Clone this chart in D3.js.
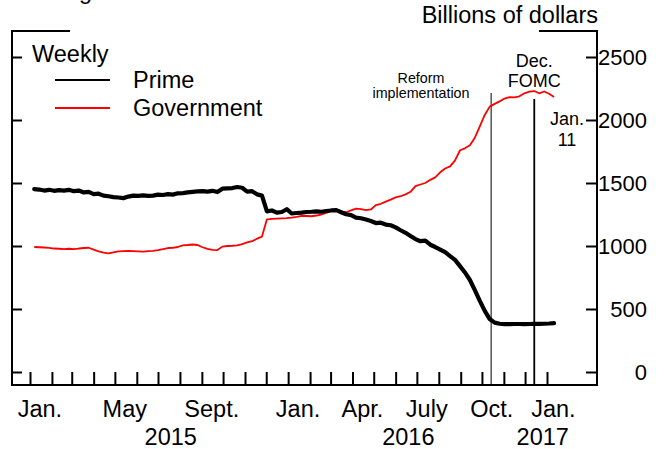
<!DOCTYPE html>
<html><head><meta charset="utf-8">
<script src="https://cdn.jsdelivr.net/npm/d3@7"></script>
<style>
html,body{margin:0;padding:0;background:#fff;}
svg{display:block;font-family:"Liberation Sans",Arial,sans-serif;}
</style>
</head><body>
<svg id="chart" width="664" height="449"></svg>
<script>
// ---------- data (weekly, Wednesdays, billions of dollars) ----------
const firstWeek = "2015-01-07";
const lastWeek = "2017-01-11";
const prime = [
 1452,1448,1440,1446,1438,1444,1440,1446,1435,1440,
 1425,1430,1412,1415,1400,1395,1388,1385,1380,1392,
 1400,1398,1402,1398,1400,1408,1405,1412,1408,1418,
 1420,1425,1430,1433,1436,1432,1438,1428,1455,1458,
 1460,1468,1462,1432,1435,1410,1400,1275,1282,1265,
 1270,1292,1258,1262,1265,1270,1272,1275,1272,1278,
 1282,1285,1268,1252,1245,1225,1220,1210,1198,1182,
 1185,1170,1165,1148,1125,1105,1080,1055,1038,1042,
 1010,992,972,952,920,890,840,790,730,650,
 565,485,420,392,383,380,380,381,381,380,
 381,382,382,383,385,388
];
const government = [
 992,990,988,985,980,978,976,978,975,980,
 984,986,972,958,948,942,950,958,960,962,
 960,958,956,960,962,968,975,984,985,992,
 1005,1008,1012,1008,990,978,970,968,995,1000,
 1002,1005,1015,1028,1038,1058,1075,1212,1216,1218,
 1220,1222,1226,1232,1240,1238,1236,1242,1250,1262,
 1280,1284,1272,1268,1282,1296,1292,1285,1290,1325,
 1335,1352,1368,1386,1395,1410,1430,1475,1488,1500,
 1525,1545,1585,1615,1632,1680,1760,1775,1800,1860,
 1950,2040,2106,2128,2148,2170,2182,2180,2188,2212,
 2225,2230,2212,2226,2208,2182
];
const seriesNames = ["Prime","Government"];
const seriesColors = ["#000000","#ff0000"];
const yTicks = [0,500,1000,1500,2000,2500];
const monthLabels = ["Jan.","May","Sept.","Jan.","Apr.","July","Oct.","Jan."];
const monthLabelDates = ["2015-01-15","2015-05-15","2015-09-15","2016-01-15","2016-04-15","2016-07-15","2016-10-15","2017-01-10"];
const yearLabels = ["2015","2016","2017"];
const yearLabelDates = ["2015-07-19","2016-06-19","2016-12-26"];
const eventDates = ["2016-10-14","2016-12-14"];
const eventLabels = [["Reform","implementation"],["Dec.","FOMC"]];
const unitLabel = "Billions of dollars";
const freqLabel = "Weekly";
const lastDateLabel = ["Jan.","11"];
const clippedTitle = "g";

// ---------- scales ----------
const parse = d3.utcParse("%Y-%m-%d");
const dates = d3.utcWednesday.range(parse(firstWeek), d3.utcDay.offset(parse(lastWeek),1));
const x = d3.scaleUtc().domain([parse("2015-01-01"), parse("2017-01-01")]).range([30,547]);
const y = d3.scaleLinear().domain([0,2500]).range([372,57]);

const svg = d3.select("#chart");
const L = 12, R = 597, T = 31, B = 385;
const FS = 23.5, FSN = 22;

// clipped title remnant at the very top
svg.append("text").attr("x",79).attr("y",-1).attr("font-size",FS).text(clippedTitle);

// frame
svg.append("path")
  .attr("d", `M${L+58},${T}H${L}V${B}H${R}V${T}H${R-58}`)
  .attr("fill","none").attr("stroke","#000").attr("stroke-width",2);

// x ticks (monthly)
const months = d3.utcMonth.range(parse("2015-01-01"), parse("2017-01-02"));
const gx = svg.append("g").attr("transform",`translate(0,${B})`)
  .call(d3.axisBottom(x).tickValues(months).tickSize(-13).tickFormat(""));
gx.select(".domain").remove();
gx.selectAll("line").attr("stroke","#000").attr("stroke-width",2);

// y ticks both sides
const gl = svg.append("g").attr("transform",`translate(${L},0)`)
  .call(d3.axisLeft(y).tickValues(yTicks).tickSize(-10).tickFormat(""));
gl.select(".domain").remove();
gl.selectAll("line").attr("stroke","#000").attr("stroke-width",2);
const gr = svg.append("g").attr("transform",`translate(${R},0)`)
  .call(d3.axisRight(y).tickValues(yTicks).tickSize(-11).tickFormat(""));
gr.select(".domain").remove();
gr.selectAll("line").attr("stroke","#000").attr("stroke-width",2);

svg.append("g").selectAll("text").data(yTicks).join("text")
  .attr("x",647).attr("y",d=>y(d)).attr("dy","0.36em")
  .attr("text-anchor","end").attr("font-size",FSN).attr("fill","#000")
  .text(d=>d);

// x labels
svg.append("g").selectAll("text").data(monthLabels).join("text")
  .attr("x",(d,i)=>x(parse(monthLabelDates[i]))).attr("y",417)
  .attr("text-anchor","middle").attr("font-size",FS).text(d=>d);
svg.append("g").selectAll("text").data(yearLabels).join("text")
  .attr("x",(d,i)=>x(parse(yearLabelDates[i]))).attr("y",445)
  .attr("text-anchor","middle").attr("font-size",FS).text(d=>d);

// unit label
svg.append("text").attr("x",598).attr("y",23).attr("text-anchor","end")
  .attr("font-size",FS).text(unitLabel);

// event lines
const evTop = [93, 99], evW = [1, 1.8];
eventDates.forEach((d,i)=>{
  svg.append("line").attr("x1",x(parse(d))).attr("x2",x(parse(d)))
    .attr("y1",evTop[i]).attr("y2",B).attr("stroke","#000").attr("stroke-width",evW[i]);
});
// event labels
svg.append("g").selectAll("text").data(eventLabels[0]).join("text")
  .attr("x",421).attr("y",(d,i)=>83+i*15).attr("text-anchor","middle")
  .attr("font-size",14.3).text(d=>d);
svg.append("g").selectAll("text").data(eventLabels[1]).join("text")
  .attr("x",x(parse(eventDates[1]))).attr("y",(d,i)=>67+i*20).attr("text-anchor","middle")
  .attr("font-size",18).text(d=>d);
svg.append("g").selectAll("text").data(lastDateLabel).join("text")
  .attr("x",567).attr("y",(d,i)=>125+i*21).attr("text-anchor","middle")
  .attr("font-size",18).text(d=>d);

// lines
const line = d3.line().x((d,i)=>x(dates[i])).y(d=>y(d)).curve(d3.curveLinear);
svg.append("path").datum(government).attr("d",line).attr("fill","none")
  .attr("stroke",seriesColors[1]).attr("stroke-width",1.8).attr("stroke-linejoin","round");
svg.append("path").datum(prime).attr("d",line).attr("fill","none")
  .attr("stroke",seriesColors[0]).attr("stroke-width",4.2).attr("stroke-linejoin","round").attr("stroke-linecap","round");

// legend
svg.append("text").attr("x",32).attr("y",62).attr("font-size",FS).text(freqLabel);
seriesNames.forEach((n,i)=>{
  const ly = 80 + i*28;
  svg.append("line").attr("x1",55).attr("x2",110).attr("y1",ly).attr("y2",ly)
    .attr("stroke",seriesColors[i]).attr("stroke-width",2);
  svg.append("text").attr("x",133).attr("y",ly+8).attr("font-size",FS).text(n);
});
</script>
</body></html>
